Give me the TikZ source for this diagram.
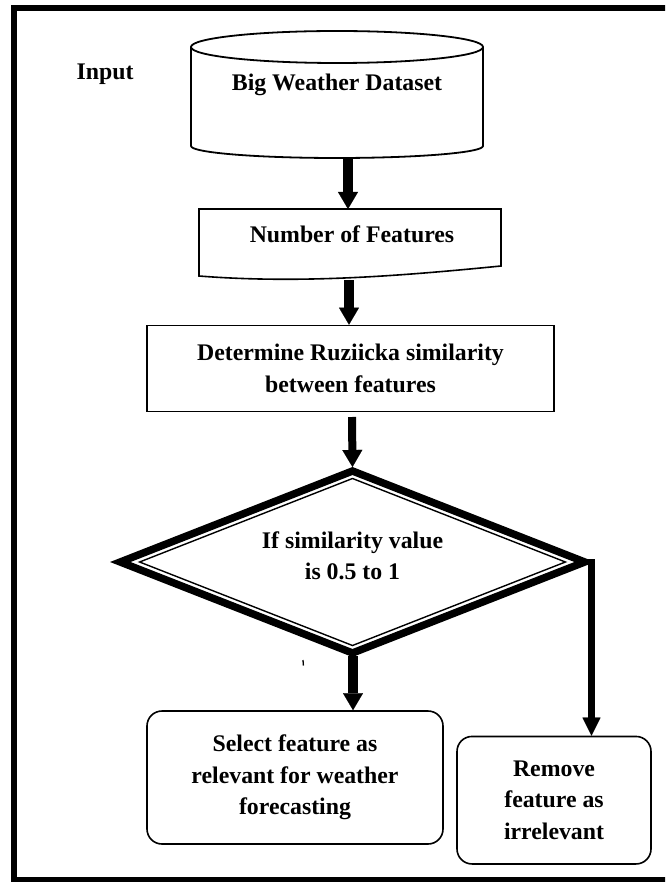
\documentclass[tikz,border=0pt]{standalone}
\usepackage{fontspec}
\setmainfont{Liberation Serif}
\usetikzlibrary{arrows.meta}
\begin{document}
\begin{tikzpicture}[x=1pt,y=-1pt,
  lbl/.style={font=\bfseries\fontsize{23.8}{31.5}\selectfont, inner sep=0pt, align=center},
  outline/.style={draw, line width=1.6pt},
  flow/.style={line width=#1, -{Triangle[width=20pt,length=17pt,line width=0.1pt]}},
  flow/.default=10pt]
\useasboundingbox (0,0) rectangle (665,882);
\clip (0,0) rectangle (665,882);

% outer frame
\draw[line width=6pt] (14,7.7) rectangle (672,880);

% database cylinder
\draw[line width=1.8pt] (191,47) -- (191,146)
  arc[start angle=180, end angle=360, x radius=146pt, y radius=12pt] -- (483,47);
\draw[line width=1.8pt] (337,47) ellipse [x radius=146pt, y radius=16pt];
\node[lbl, anchor=base] (inp) at (105,80) {Input};
\node[lbl, anchor=base] (db) at (337,91) {Big Weather Dataset};
\coordinate (dbbot) at (348,158);

% document shape
\draw[line width=1.6pt] (199,209) -- (501,209) -- (501,266)
  .. controls (400,276) and (300,284) .. (199,276) -- cycle;
\node[lbl, anchor=base] (num) at (352,243) {Number of Features};
\coordinate (numtop) at (348,209);
\coordinate (numbot) at (349,280);

% process box
\node[outline, lbl, minimum width=407pt, minimum height=86pt] (det) at (350.5,368.5)
  {Determine Ruziicka similarity\\between features};
\coordinate (detout) at (352,417);

% decision diamond (thick-thin border)
\coordinate (dT) at (352.5,471);
\coordinate (dR) at (584.7,562);
\coordinate (dB) at (352.5,653);
\coordinate (dL) at (120.3,562);
\draw[line width=7.5pt, line join=miter, miter limit=10] (dT) -- (dR) -- (dB) -- (dL) -- cycle;
\draw[line width=1.4pt, line join=miter, miter limit=10]
  (352.5,478.5) -- (565.4,562) -- (352.5,645.5) -- (139.6,562) -- cycle;
\node[lbl] (cond) at (352.5,556) {If similarity value\\is 0.5 to 1};
\coordinate (dtip) at (352.5,467);
\coordinate (dout) at (353,656);
\coordinate (dRarm) at (591.5,559);
\draw[line width=1.3pt] (303,660) -- (303.4,665.5);

% outcome boxes
\node[outline, lbl, rounded corners=15pt, minimum width=296pt, minimum height=133pt] (sel)
  at (295,777.5) {Select feature as\\relevant for weather\\forecasting};
\node[outline, lbl, rounded corners=15pt, minimum width=194pt, minimum height=127.5pt] (rem)
  at (554,800.2) {Remove\\feature as\\irrelevant};

% connectors
\draw[flow] (dbbot) -- (numtop);
\draw[flow] (numbot) -- (det.north -| numbot);
\draw[flow=8pt] (detout) -- (dtip);
\draw[flow] (dout) -- (sel.north -| dout);
\draw[line width=7pt, -{Triangle[width=18pt,length=18pt,line width=0.1pt]}] (dRarm) -- (rem.north -| dRarm);
\end{tikzpicture}
\end{document}
